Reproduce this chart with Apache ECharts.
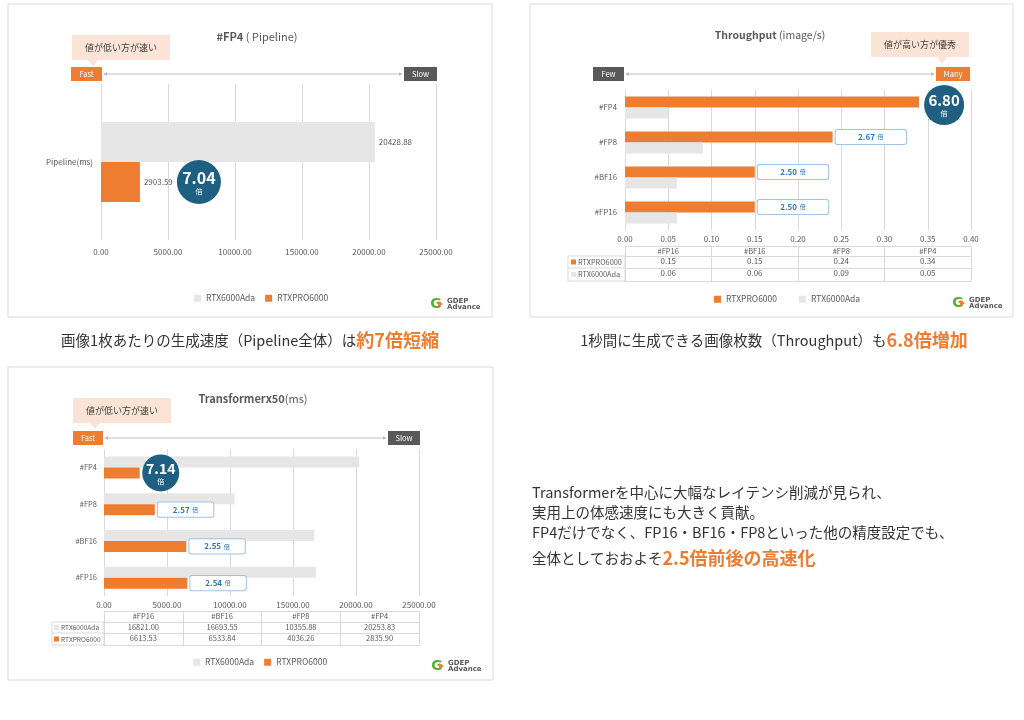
<!DOCTYPE html>
<html><head><meta charset="utf-8">
<script src="https://cdn.jsdelivr.net/npm/echarts@6/dist/echarts.min.js"></script>
<style>html,body{margin:0;padding:0;background:#fff}#c{width:1024px;height:720px}</style>
</head><body><div id="c"></div><script>
// ---------------- data ----------------
const nameAda = 'RTX6000Ada';
const namePro = 'RTXPRO6000';
// Chart 1 : #FP4 (Pipeline) ms
const pipeCats = ['Pipeline(ms)'];
const pipeAda = [20428.88];
const pipePro = [2903.59];
const pipeRatio = ['7.04'];
// Chart 2 : Throughput (image/s)
const tpCats = ['#FP16', '#BF16', '#FP8', '#FP4'];
const tpPro = [0.15, 0.15, 0.24, 0.34];
const tpAda = [0.06, 0.06, 0.09, 0.05];
const tpRatio = ['2.50', '2.50', '2.67', '6.80'];
// Chart 3 : Transformerx50 (ms)
const trCats = ['#FP16', '#BF16', '#FP8', '#FP4'];
const trAda = [16821.00, 16693.55, 10355.88, 20253.83];
const trPro = [6613.53, 6533.84, 4036.26, 2835.90];
const trRatio = ['2.54', '2.55', '2.57', '7.14'];

// ---------------- styles ----------------
const GRAY = '#E7E6E6', ORANGE = '#ED7D31', DARK = '#595959', LINE = '#D9D9D9';
const NAVY = '#1F5F82', BLUE = '#2E75B6', BLUEB = '#9DC3E6', PEACH = '#FBE4D5';
const FONT = "'Noto Sans CJK JP', 'Noto Sans', sans-serif";
const f2 = v => Number(v).toFixed(2);

function valueAxis(grid, max, interval, margin) {
  return { type: 'value', gridIndex: grid, min: 0, max: max, interval: interval, position: 'bottom',
    axisLine: { show: false }, axisTick: { show: false },
    splitLine: { show: true, lineStyle: { color: LINE, width: 1 } },
    axisLabel: { fontSize: 8, color: DARK, margin: margin, formatter: v => v.toFixed(2) } };
}
function tableAxis(grid, data, offset, tick, showLabel, fs) {
  return { type: 'category', gridIndex: grid, data: data, position: 'bottom', offset: offset,
    axisLine: { show: true, lineStyle: { color: LINE, width: 1 } },
    axisTick: { show: tick > 0, length: tick, interval: 0, alignWithLabel: false, lineStyle: { color: LINE } },
    axisLabel: { show: showLabel, interval: 0, margin: 1, fontSize: fs, color: DARK },
    splitLine: { show: false } };
}
function catAxis(grid, data, margin, fs) {
  return { type: 'category', gridIndex: grid, data: data,
    axisLine: { show: false }, axisTick: { show: false },
    axisLabel: { fontSize: fs, color: DARK, margin: margin } };
}
function ratioLabel(r, padX) {
  return { show: true, position: 'right', distance: 3, formatter: '{a|' + r + '} {b|倍}',
    backgroundColor: '#fff', borderColor: BLUEB, borderWidth: 1, borderRadius: 2, padding: [1, padX, 1, padX],
    rich: { a: { fontSize: 8, fontWeight: 'bold', color: BLUE, lineHeight: 11 },
            b: { fontSize: 6, color: BLUE, lineHeight: 11 } } };
}
function circleMark(coord, offset, size, r, fsA) {
  return { symbol: 'circle', symbolSize: size, silent: true, itemStyle: { color: NAVY },
    label: { show: true, position: 'inside', formatter: '{a|' + r + '}\n{b|倍}',
      rich: { a: { fontSize: fsA, fontWeight: 'bold', color: '#fff', lineHeight: fsA + 2 },
              b: { fontSize: 7, color: '#fff', lineHeight: 9 } } },
    data: [{ coord: coord, symbolOffset: offset }] };
}
const valLabel = { show: true, position: 'right', distance: 4, fontSize: 8, color: DARK, formatter: p => f2(p.value) };

// ---------------- graphic helpers ----------------
const G = [];
function rect(x, y, w, h, style) { G.push({ type: 'rect', silent: true, shape: { x: x, y: y, width: w, height: h }, style: style }); }
function txt(x, y, t, style) {
  G.push({ type: 'text', silent: true, x: x, y: y,
    style: Object.assign({ text: t, fontFamily: FONT, fontSize: 9, fill: DARK, align: 'center', verticalAlign: 'middle' }, style) });
}
function poly(points, fill) { G.push({ type: 'polygon', silent: true, shape: { points: points }, style: { fill: fill } }); }
function line(x1, y1, x2, y2, stroke) { G.push({ type: 'line', silent: true, shape: { x1: x1, y1: y1, x2: x2, y2: y2 }, style: { stroke: stroke, lineWidth: 1 } }); }
function panel(x, y, w, h) { rect(x, y, w, h, { fill: 'none', stroke: LINE, lineWidth: 1 }); }
function callout(x, y, w, h, tipX, tipY, t) {
  rect(x, y, w, h, { fill: PEACH });
  poly([[tipX - 5, y + h], [tipX + 5, y + h], [tipX, tipY]], PEACH);
  txt(x + w / 2, y + h / 2, t, { fontSize: 9, fill: '#404040' });
}
function tag(x, y, w, h, fill, t) { rect(x, y, w, h, { fill: fill }); txt(x + w / 2, y + h / 2, t, { fontSize: 7.5, fill: '#fff' }); }
function arrow(x1, x2, y) {
  const c = '#BFBFBF';
  line(x1 + 3, y, x2 - 3, y, c);
  poly([[x1, y], [x1 + 4, y - 2], [x1 + 4, y + 2]], c);
  poly([[x2, y], [x2 - 4, y - 2], [x2 - 4, y + 2]], c);
}
function logo(x, y) {
  txt(x + 5, y + 6, 'G', { fontSize: 14, fontWeight: 'bold', fill: '#5AAE32', fontFamily: 'DejaVu Sans' });
  poly([[x + 7, y + 3], [x + 12, y + 6], [x + 7, y + 9]], ORANGE);
  txt(x + 16, y + 3, 'GDEP', { fontSize: 7, fontWeight: 'bold', fill: DARK, align: 'left', fontFamily: 'DejaVu Sans' });
  txt(x + 16, y + 9.5, 'Advance', { fontSize: 7, fontWeight: 'bold', fill: DARK, align: 'left', fontFamily: 'DejaVu Sans' });
}
function rowLabel(x, y, color, name, fs) {
  rect(x, y - 2.5, 5, 5, { fill: color });
  txt(x + 7, y, name, { fontSize: fs, align: 'left' });
}
function title(x, y, bold, rest, fs) {
  txt(x, y, '{b|' + bold + '}{r|' + rest + '}', { rich: {
    b: { fontSize: fs, fontWeight: 'bold', fill: DARK, fontFamily: FONT },
    r: { fontSize: fs, fill: DARK, fontFamily: FONT } } });
}

// panel 1
panel(8, 4, 484, 313);
title(257, 37, '#FP4', ' ( Pipeline)', 11);
callout(72, 35, 98, 25, 93, 66, '値が低い方が速い');
tag(71, 67, 31, 14, ORANGE, 'Fast');
tag(404, 67, 33, 14, DARK, 'Slow');
arrow(103, 403, 74);
logo(431, 298);
// panel 2
panel(530, 4, 483, 313);
title(770, 35, 'Throughput', ' (image/s)', 10.5);
callout(871, 32, 98, 25, 942, 64, '値が高い方が優秀');
tag(593, 67, 31, 14, DARK, 'Few');
tag(936, 67, 34, 14, ORANGE, 'Many');
arrow(625, 935, 74);
rect(568, 256, 57, 25, { fill: 'none', stroke: LINE, lineWidth: 1 });
line(568, 268, 625, 268, LINE);
rowLabel(571, 262, ORANGE, namePro, 7.3);
rowLabel(571, 274.5, GRAY, nameAda, 7.3);
logo(953, 297);
// panel 3
panel(8, 367, 485, 313);
title(253, 399, 'Transformerx50', '(ms)', 11);
callout(73, 398, 98, 25, 95, 429, '値が低い方が速い');
tag(73, 431, 30, 14, ORANGE, 'Fast');
tag(388, 431, 32, 14, DARK, 'Slow');
arrow(104, 387, 438);
rect(52, 622, 52, 23, { fill: 'none', stroke: LINE, lineWidth: 1 });
line(52, 633, 104, 633, LINE);
rowLabel(54, 627.5, GRAY, nameAda, 6.6);
rowLabel(54, 639, ORANGE, namePro, 6.6);
logo(432, 660);
// captions
const capStyle = { n: { fontSize: 14.5, fill: '#333', fontFamily: FONT }, o: { fontSize: 18, fontWeight: 'bold', fill: ORANGE, fontFamily: FONT } };
txt(250, 340, '{n|画像1枚あたりの生成速度（Pipeline全体）は}{o|約7倍短縮}', { rich: capStyle });
txt(774, 340, '{n|1秒間に生成できる画像枚数（Throughput）も}{o|6.8倍増加}', { rich: capStyle });
const para = ['Transformerを中心に大幅なレイテンシ削減が見られ、', '実用上の体感速度にも大きく貢献。', 'FP4だけでなく、FP16・BF16・FP8といった他の精度設定でも、'];
para.forEach((t, i) => txt(532, 492 + i * 20, t, { fontSize: 14.5, fill: '#333', align: 'left' }));
txt(532, 558, '{n|全体としておおよそ}{o|2.5倍前後の高速化}', { align: 'left', rich: capStyle });

// ---------------- option ----------------
const lastTp = tpCats.length - 1, lastTr = trCats.length - 1;
const option = {
  animation: false,
  textStyle: { fontFamily: FONT },
  grid: [
    { left: 101, top: 84, width: 335, height: 156 },
    { left: 625, top: 90, width: 346, height: 140 },
    { left: 104, top: 449, width: 315, height: 147 }
  ],
  xAxis: [
    valueAxis(0, 25000, 5000, 8),
    valueAxis(1, 0.4, 0.05, 5),
    tableAxis(1, tpCats, 16, 35, true, 7.5),
    tableAxis(1, tpPro.map(f2), 26, 0, true, 8),
    tableAxis(1, tpAda.map(f2), 38, 0, true, 8),
    tableAxis(1, tpCats, 51, 0, false, 8),
    valueAxis(2, 25000, 5000, 5),
    tableAxis(2, trCats, 15, 34, true, 7.5),
    tableAxis(2, trAda.map(f2), 26, 0, true, 7.5),
    tableAxis(2, trPro.map(f2), 37, 0, true, 7.5),
    tableAxis(2, trCats, 49, 0, false, 7.5)
  ],
  yAxis: [
    catAxis(0, pipeCats, 8, 8),
    catAxis(1, tpCats, 8, 7.8),
    catAxis(2, trCats, 7, 7.5)
  ],
  legend: [
    { data: [nameAda, namePro], left: 189, top: 289, icon: 'rect', itemWidth: 7, itemHeight: 7, itemGap: 10, textStyle: { fontSize: 8.5, color: DARK } },
    { data: [namePro, nameAda], left: 709, top: 290, icon: 'rect', itemWidth: 7, itemHeight: 7, itemGap: 22, textStyle: { fontSize: 8.5, color: DARK } },
    { data: [nameAda, namePro], left: 188, top: 653, icon: 'rect', itemWidth: 7, itemHeight: 7, itemGap: 10, textStyle: { fontSize: 8.5, color: DARK } }
  ],
  series: [
    { type: 'bar', name: nameAda, xAxisIndex: 0, yAxisIndex: 0, data: pipeAda, barWidth: 40, barGap: '0%',
      itemStyle: { color: GRAY }, label: valLabel },
    { type: 'bar', name: namePro, xAxisIndex: 0, yAxisIndex: 0, data: pipePro, barWidth: 40, barGap: '0%',
      itemStyle: { color: ORANGE }, label: valLabel,
      markPoint: circleMark([pipePro[0], 0], [59, 0], 44, pipeRatio[0], 16) },

    { type: 'bar', name: namePro, xAxisIndex: 1, yAxisIndex: 1, barWidth: 11, barGap: '0%', itemStyle: { color: ORANGE },
      data: tpPro.map((v, i) => i === lastTp ? { value: v } : { value: v, label: ratioLabel(tpRatio[i], 22.5) }),
      markPoint: circleMark([tpPro[lastTp], lastTp], [25, 3], 40, tpRatio[lastTp], 15) },
    { type: 'bar', name: nameAda, xAxisIndex: 1, yAxisIndex: 1, barWidth: 11, barGap: '0%', itemStyle: { color: GRAY }, data: tpAda },

    { type: 'bar', name: nameAda, xAxisIndex: 6, yAxisIndex: 2, barWidth: 11, barGap: '0%', itemStyle: { color: GRAY }, data: trAda },
    { type: 'bar', name: namePro, xAxisIndex: 6, yAxisIndex: 2, barWidth: 11, barGap: '0%', itemStyle: { color: ORANGE },
      data: trPro.map((v, i) => i === lastTr ? { value: v } : { value: v, label: ratioLabel(trRatio[i], 15) }),
      markPoint: circleMark([trPro[lastTr], lastTr], [21, 0], 37, trRatio[lastTr], 14) }
  ],
  graphic: { elements: G }
};
const chart = echarts.init(document.getElementById('c'), null, { renderer: 'canvas' });
chart.setOption(option);
</script></body></html>
